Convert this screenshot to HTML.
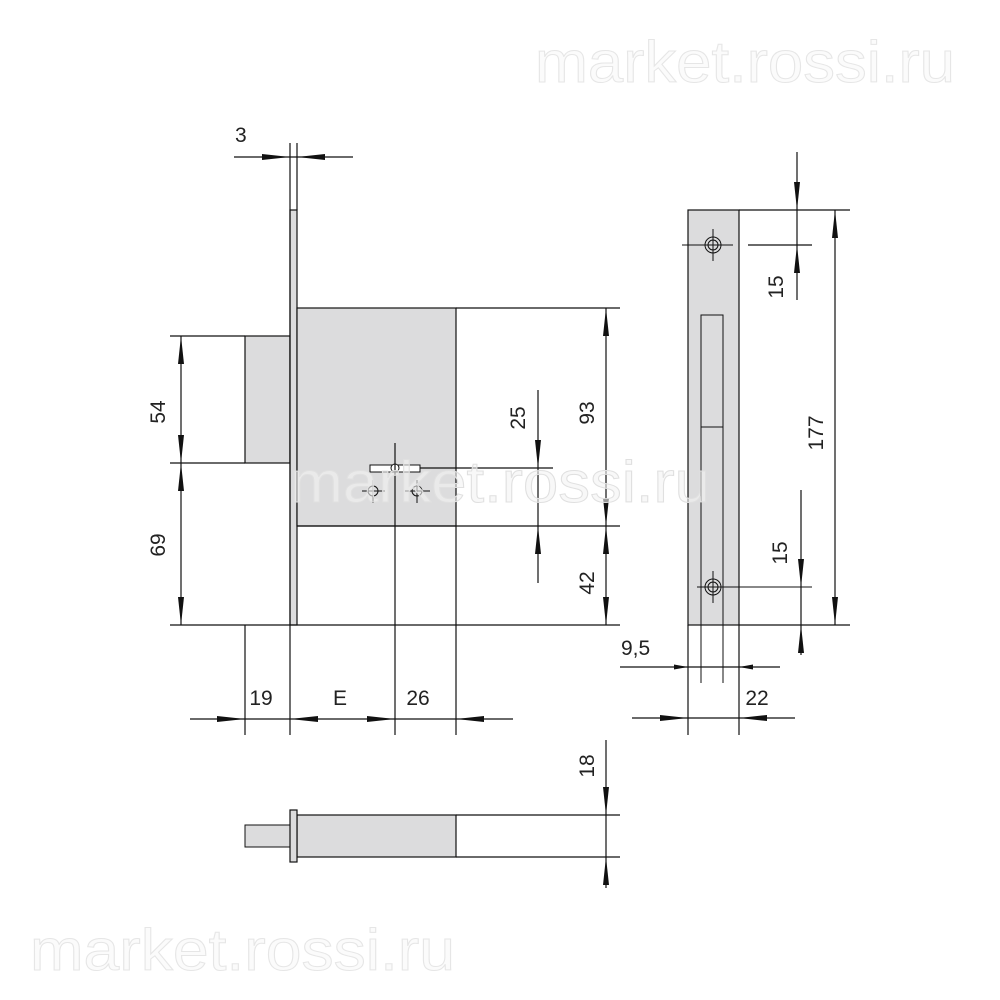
<!DOCTYPE html>
<html><head><meta charset="utf-8"><style>
html,body{margin:0;padding:0;background:#fff;}
svg{display:block}
text{font-family:"Liberation Sans","DejaVu Sans",sans-serif;fill:#222}
.l{stroke:#111;stroke-width:1.2;fill:none}
.g{fill:#dcdcdd;stroke:#111;stroke-width:1.2}
.wm{font-size:58px;fill:#fbfbfb;stroke:#e6e6e6;stroke-width:1}
.d{font-size:21px}
</style></head><body>
<svg width="1000" height="1000" viewBox="0 0 1000 1000">
<text class="wm" x="535" y="82" textLength="420" lengthAdjust="spacingAndGlyphs">market.rossi.ru</text>
<text class="wm" x="30" y="970" textLength="425" lengthAdjust="spacingAndGlyphs">market.rossi.ru</text>

<rect class="g" x="245" y="336" width="45" height="127"/>
<rect class="g" x="290" y="210" width="7" height="415"/>
<rect class="g" x="297" y="308" width="159" height="218"/>
<rect x="370" y="465" width="50" height="7" fill="#fff" stroke="#111" stroke-width="1"/>
<circle cx="395" cy="468" r="4" fill="#fff" stroke="#111" stroke-width="1"/>
<g class="l" style="stroke-width:1">
<circle cx="373" cy="491" r="5"/><line x1="362" y1="491" x2="385" y2="491"/><line x1="373" y1="480" x2="373" y2="503"/>
<circle cx="417" cy="491" r="5"/><line x1="405" y1="491" x2="430" y2="491"/><line x1="417" y1="480" x2="417" y2="503"/>
</g>
<g class="l">
<line x1="290" y1="143" x2="290" y2="735"/>
<line x1="297" y1="143" x2="297" y2="210"/>
<line x1="234" y1="157" x2="353" y2="157"/>
<line x1="456" y1="308" x2="620" y2="308"/>
<line x1="170" y1="336" x2="245" y2="336"/>
<line x1="170" y1="463" x2="245" y2="463"/>
<line x1="297" y1="526" x2="620" y2="526"/>
<line x1="170" y1="625" x2="620" y2="625"/>
<line x1="395" y1="443" x2="395" y2="735"/>
<line x1="420" y1="468" x2="553" y2="468"/>
<line x1="245" y1="625" x2="245" y2="735"/>
<line x1="456" y1="526" x2="456" y2="735"/>
<line x1="181" y1="336" x2="181" y2="625"/>
<line x1="538" y1="390" x2="538" y2="583"/>
<line x1="606" y1="308" x2="606" y2="625"/>
<line x1="190" y1="719" x2="513" y2="719"/>
</g>
<g fill="#111">
<polygon points="290,157 262,154 262,160"/><polygon points="297,157 325,154 325,160"/>
<polygon points="181,336 178,364 184,364"/><polygon points="181,463 178,435 184,435"/>
<polygon points="181,463 178,491 184,491"/><polygon points="181,625 178,597 184,597"/>
<polygon points="538,468 535,440 541,440"/><polygon points="538,526 535,554 541,554"/>
<polygon points="606,308 603,336 609,336"/><polygon points="606,526 603,498 609,498"/>
<polygon points="606,526 603,554 609,554"/><polygon points="606,625 603,597 609,597"/>
<polygon points="245,719 217,716 217,722"/><polygon points="290,719 318,716 318,722"/>
<polygon points="395,719 367,716 367,722"/><polygon points="456,719 484,716 484,722"/>
</g>
<text class="d" x="235" y="142">3</text>
<text class="d" transform="translate(165,412) rotate(-90)" text-anchor="middle">54</text>
<text class="d" transform="translate(165,545) rotate(-90)" text-anchor="middle">69</text>
<text class="d" transform="translate(525,418) rotate(-90)" text-anchor="middle">25</text>
<text class="d" transform="translate(594,413) rotate(-90)" text-anchor="middle">93</text>
<text class="d" transform="translate(594,583) rotate(-90)" text-anchor="middle">42</text>
<text class="d" x="261" y="705" text-anchor="middle">19</text>
<text class="d" x="340" y="705" text-anchor="middle">E</text>
<text class="d" x="418" y="705" text-anchor="middle">26</text>

<rect class="g" x="688" y="210" width="51" height="415"/>
<rect x="701" y="315" width="22" height="112" fill="none" stroke="#111" stroke-width="1"/>
<g class="l" style="stroke-width:1">
<line x1="701" y1="427" x2="701" y2="683"/><line x1="723" y1="427" x2="723" y2="683"/>
<circle cx="713" cy="245" r="8"/><circle cx="713" cy="245" r="5"/>
<line x1="682" y1="245" x2="733" y2="245"/><line x1="713" y1="229" x2="713" y2="261"/>
<circle cx="713" cy="587" r="8"/><circle cx="713" cy="587" r="5"/>
<line x1="697" y1="587" x2="812" y2="587"/><line x1="713" y1="571" x2="713" y2="603"/>
</g>
<g class="l">
<line x1="739" y1="210" x2="850" y2="210"/>
<line x1="748" y1="245" x2="812" y2="245"/>
<line x1="739" y1="625" x2="850" y2="625"/>
<line x1="797" y1="152" x2="797" y2="300"/>
<line x1="801" y1="490" x2="801" y2="655"/>
<line x1="835" y1="210" x2="835" y2="625"/>
<line x1="688" y1="625" x2="688" y2="735"/>
<line x1="739" y1="625" x2="739" y2="735"/>
<line x1="620" y1="667" x2="780" y2="667"/>
<line x1="632" y1="718" x2="795" y2="718"/>
</g>
<g fill="#111">
<polygon points="797,210 794,182 800,182"/><polygon points="797,245 794,273 800,273"/>
<polygon points="801,587 798,559 804,559"/><polygon points="801,625 798,653 804,653"/>
<polygon points="835,210 832,238 838,238"/><polygon points="835,625 832,597 838,597"/>
<polygon points="688,667 674,664.5 674,669.5"/><polygon points="739,667 753,664.5 753,669.5"/>
<polygon points="688,718 660,715 660,721"/><polygon points="739,718 767,715 767,721"/>
</g>
<text class="d" transform="translate(783,287) rotate(-90)" text-anchor="middle">15</text>
<text class="d" transform="translate(823,433) rotate(-90)" text-anchor="middle">177</text>
<text class="d" transform="translate(787,553) rotate(-90)" text-anchor="middle">15</text>
<text class="d" x="621" y="655">9,5</text>
<text class="d" x="757" y="705" text-anchor="middle">22</text>

<rect class="g" x="245" y="825" width="45" height="22" style="stroke-width:1"/>
<rect class="g" x="297" y="815" width="159" height="42"/>
<rect class="g" x="290" y="810" width="7" height="52"/>
<g class="l">
<line x1="456" y1="815" x2="620" y2="815"/>
<line x1="456" y1="857" x2="620" y2="857"/>
<line x1="606" y1="740" x2="606" y2="888"/>
</g>
<g fill="#111">
<polygon points="606,815 603,787 609,787"/><polygon points="606,857 603,885 609,885"/>
</g>
<text class="d" transform="translate(594,766) rotate(-90)" text-anchor="middle">18</text>

<text class="wm" x="290" y="502" textLength="420" lengthAdjust="spacingAndGlyphs" style="fill:#f4f4f4;stroke:#e0e0e0;fill-opacity:0.6">market.rossi.ru</text>
</svg>
</body></html>
